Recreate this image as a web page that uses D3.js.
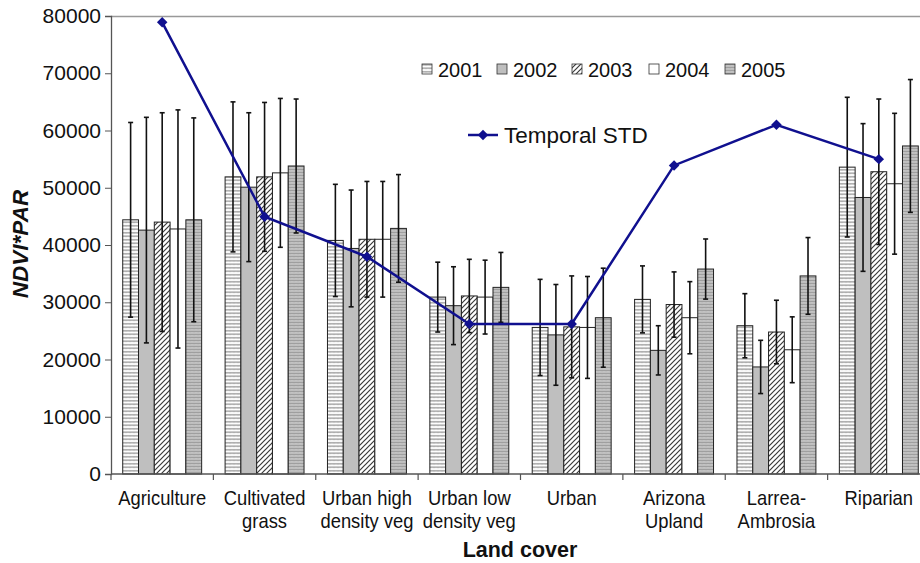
<!DOCTYPE html>
<html>
<head>
<meta charset="utf-8">
<script src="https://cdn.jsdelivr.net/npm/d3@7"></script>
<style>
  body { margin: 0; background: #fff; }
  svg { display: block; font-family: Arial, "Liberation Sans", sans-serif; }
</style>
</head>
<body>
<svg id="chart" width="920" height="563"></svg>
<script>
const categories = [
  ["Agriculture"], ["Cultivated", "grass"], ["Urban high", "density veg"], ["Urban low", "density veg"],
  ["Urban"], ["Arizona", "Upland"], ["Larrea-", "Ambrosia"], ["Riparian"]
];
const years = ["2001", "2002", "2003", "2004", "2005"];
// mean values per category, one array per year
const v2001 = [44400, 51900, 40800, 30900, 25600, 30500, 25900, 53600];
const v2002 = [42600, 50100, 39400, 29400, 24300, 21600, 18700, 48300];
const v2003 = [44000, 51900, 41000, 31100, 25700, 29600, 24800, 52800];
const v2004 = [42800, 52600, 41000, 30900, 25600, 27300, 21700, 50700];
const v2005 = [44400, 53800, 42900, 32600, 27300, 35800, 34600, 57300];
// standard deviation error bars
const e2001 = [17000, 13100, 9800, 6100, 8400, 5850, 5600, 12200];
const e2002 = [19700, 13000, 10200, 6800, 8800, 4300, 4650, 12900];
const e2003 = [19100, 13000, 10100, 6400, 8900, 5700, 5550, 12700];
const e2004 = [20800, 13000, 10100, 6450, 8900, 6300, 5750, 12300];
const e2005 = [17800, 11700, 9400, 6100, 8650, 5250, 6700, 11600];
const temporalSTD = [78900, 44950, 37950, 26200, 26200, 53900, 61000, 55000];
const yTicks = [0, 10000, 20000, 30000, 40000, 50000, 60000, 70000, 80000];

const values = [v2001, v2002, v2003, v2004, v2005];
const errors = [e2001, e2002, e2003, e2004, e2005];

const svg = d3.select("#chart");
const mLeft = 111, mRight = 930, mTop = 16, mBottom = 474;

// patterns
const defs = svg.append("defs");
const p1 = defs.append("pattern").attr("id", "p2001").attr("patternUnits", "userSpaceOnUse")
  .attr("width", 4).attr("height", 3.5);
p1.append("rect").attr("width", 4).attr("height", 3.5).attr("fill", "#fff");
p1.append("path").attr("d", "M0,2.7 L1,0.9 L2,2.7 L3,0.9 L4,2.7").attr("fill", "none")
  .attr("stroke", "#8f8f8f").attr("stroke-width", 0.8);

const p3 = defs.append("pattern").attr("id", "p2003").attr("patternUnits", "userSpaceOnUse")
  .attr("width", 5).attr("height", 5);
p3.append("rect").attr("width", 5).attr("height", 5).attr("fill", "#fff");
p3.append("path").attr("d", "M-1,1 L1,-1 M0,5 L5,0 M4,6 L6,4").attr("fill", "none")
  .attr("stroke", "#3a3a3a").attr("stroke-width", 1.2);

const p5 = defs.append("pattern").attr("id", "p2005").attr("patternUnits", "userSpaceOnUse")
  .attr("width", 4).attr("height", 3);
p5.append("rect").attr("width", 4).attr("height", 3).attr("fill", "#c6c6c6");
p5.append("path").attr("d", "M0,2.2 L1,0.8 L2,2.2 L3,0.8 L4,2.2").attr("fill", "none")
  .attr("stroke", "#8c8c8c").attr("stroke-width", 0.7);

const fills = ["url(#p2001)", "#bfbfbf", "url(#p2003)", "#ffffff", "url(#p2005)"];

const x = d3.scaleBand().domain(d3.range(categories.length)).range([mLeft, mRight])
  .paddingInner(0.229).paddingOuter(0.1145);
const xs = d3.scaleBand().domain(years).range([0, x.bandwidth()]).padding(0);
const y = d3.scaleLinear().domain([0, 80000]).range([mBottom, mTop]);

// top border
svg.append("line").attr("x1", mLeft).attr("x2", 920).attr("y1", mTop + 0.5).attr("y2", mTop + 0.5)
  .attr("stroke", "#999").attr("stroke-width", 1.5);

// bars
years.forEach((yr, j) => {
  const g = svg.append("g");
  g.selectAll("rect").data(values[j]).join("rect")
    .attr("x", (d, i) => x(i) + xs(yr))
    .attr("y", d => y(d))
    .attr("width", xs.bandwidth())
    .attr("height", d => y(0) - y(d))
    .attr("fill", fills[j])
    .attr("stroke", "#222").attr("stroke-width", 1);
});

// error bars
years.forEach((yr, j) => {
  const g = svg.append("g").attr("stroke", "#111").attr("stroke-width", 1.6);
  values[j].forEach((v, i) => {
    const cx = x(i) + xs(yr) + xs.bandwidth() / 2;
    const e = errors[j][i];
    g.append("line").attr("x1", cx).attr("x2", cx).attr("y1", y(v + e)).attr("y2", y(v - e));
    g.append("line").attr("x1", cx - 2.5).attr("x2", cx + 2.5).attr("y1", y(v + e)).attr("y2", y(v + e));
    g.append("line").attr("x1", cx - 2.5).attr("x2", cx + 2.5).attr("y1", y(v - e)).attr("y2", y(v - e));
  });
});

// axes
const yAxis = svg.append("g").attr("transform", `translate(${mLeft},0)`)
  .call(d3.axisLeft(y).tickValues(yTicks).tickSize(6).tickPadding(4).tickFormat(d3.format("d")));
yAxis.select(".domain").attr("stroke", "#555").attr("stroke-width", 1.3);
yAxis.selectAll(".tick line").attr("stroke", "#555");
yAxis.selectAll("text").attr("font-size", 21).attr("fill", "#111").attr("font-family", "Arial, 'Liberation Sans', sans-serif");

const boundaries = d3.range(categories.length + 1).map(i => mLeft + i * x.step());
svg.append("line").attr("x1", mLeft).attr("x2", 920).attr("y1", mBottom).attr("y2", mBottom)
  .attr("stroke", "#555").attr("stroke-width", 1.3);
svg.append("g").selectAll("line").data(boundaries).join("line")
  .attr("x1", d => d).attr("x2", d => d).attr("y1", mBottom).attr("y2", mBottom + 6)
  .attr("stroke", "#555").attr("stroke-width", 1.2);

// category labels (slightly condensed like the original)
const lab = svg.append("g").attr("font-size", 20).attr("fill", "#111").attr("text-anchor", "middle");
categories.forEach((lines, i) => {
  const cx = x(i) + x.bandwidth() / 2;
  const t = lab.append("text").attr("transform", `translate(${cx},505) scale(0.92,1)`);
  lines.forEach((l, k) => t.append("tspan").attr("x", 0).attr("dy", k === 0 ? 0 : 23.5).text(l));
});

// temporal STD line
const line = d3.line().x((d, i) => x(i) + x.bandwidth() / 2).y(d => y(d));
svg.append("path").datum(temporalSTD).attr("d", line).attr("fill", "none")
  .attr("stroke", "#10108f").attr("stroke-width", 2.5);
const diamond = d3.symbol().type(d3.symbolDiamond2).size(70);
svg.append("g").selectAll("path").data(temporalSTD).join("path")
  .attr("transform", (d, i) => `translate(${x(i) + x.bandwidth() / 2},${y(d)})`)
  .attr("d", diamond).attr("fill", "#10108f");

// legend: years
const legX = [422, 497, 572, 649, 725];
const leg = svg.append("g");
years.forEach((yr, j) => {
  leg.append("rect").attr("x", legX[j]).attr("y", 64).attr("width", 10).attr("height", 10)
    .attr("fill", fills[j]).attr("stroke", "#333").attr("stroke-width", 0.8);
  leg.append("text").attr("x", legX[j] + 16).attr("y", 77).attr("font-size", 20).attr("fill", "#111").text(yr);
});
// legend: temporal STD
leg.append("line").attr("x1", 468).attr("x2", 498).attr("y1", 135).attr("y2", 135)
  .attr("stroke", "#10108f").attr("stroke-width", 2.5);
leg.append("path").attr("transform", "translate(483,135)").attr("d", diamond).attr("fill", "#10108f");
leg.append("text").attr("x", 504).attr("y", 143).attr("font-size", 22.5).attr("fill", "#111").text("Temporal STD");

// axis titles
svg.append("text").attr("transform", "translate(28,244) rotate(-90)").attr("text-anchor", "middle")
  .attr("font-size", 22.5).attr("font-weight", "bold").attr("font-style", "italic").attr("fill", "#111")
  .text("NDVI*PAR");
svg.append("text").attr("x", 520).attr("y", 557).attr("text-anchor", "middle")
  .attr("font-size", 21.5).attr("font-weight", "bold").attr("fill", "#111").text("Land cover");
</script>
</body>
</html>
